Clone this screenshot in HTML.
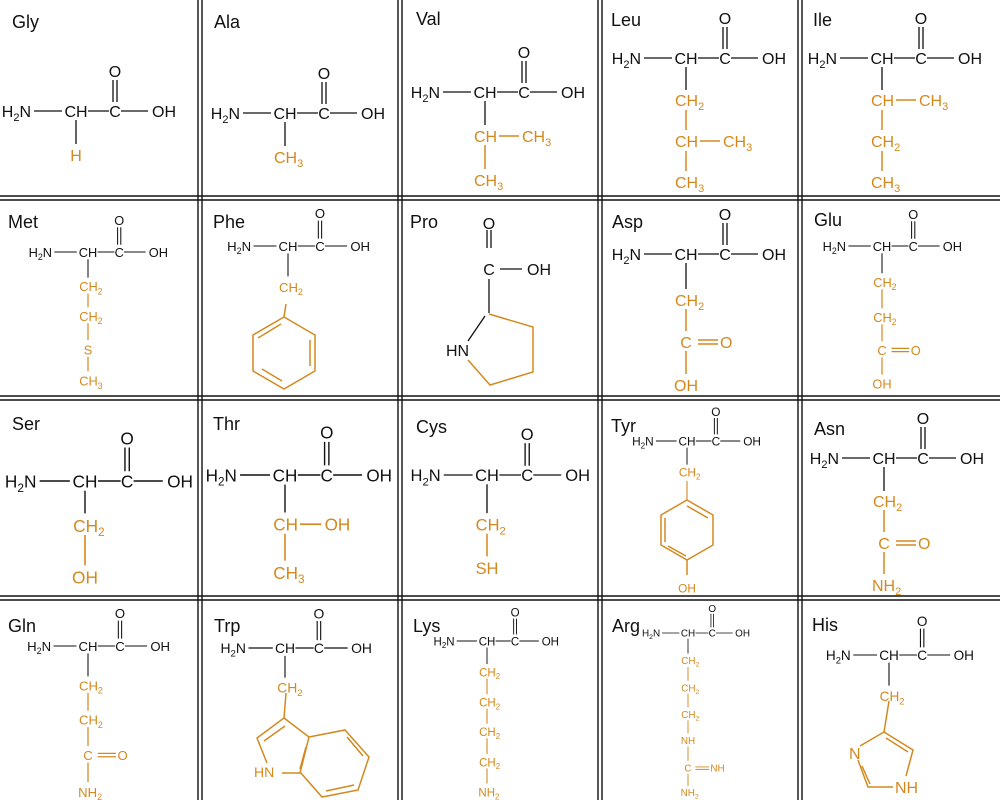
<!DOCTYPE html>
<html><head><meta charset="utf-8"><style>
html,body{margin:0;padding:0;background:#fff}
svg{display:block}
text{font-family:"Liberation Sans",Arial,sans-serif;font-size:16px;fill:#111}
.o text,text.o{fill:#d4891e}
.lab{font-size:18px}
.k{stroke:#111;stroke-width:1.3;fill:none}
.or{stroke:#d4891e;stroke-width:1.5;fill:none}
.m{text-anchor:middle}
</style></head><body>
<svg width="1000" height="800" viewBox="0 0 1000 800">
<rect width="1000" height="800" fill="#fff"/>
<g stroke="#111" stroke-width="1.4">
<path d="M198 0V800M202 0V800M398 0V800M402 0V800M598 0V800M602 0V800M798 0V800M802 0V800"/>
<path d="M0 196H1000M0 200H1000M0 396H1000M0 400H1000M0 596H1000M0 600H1000"/>
</g>
<g class="lab">
<text class="lab" x="12" y="28">Gly</text><text class="lab" x="214" y="28">Ala</text><text class="lab" x="416" y="25">Val</text><text class="lab" x="611" y="26">Leu</text><text class="lab" x="813" y="26">Ile</text>
<text class="lab" x="8" y="228">Met</text><text class="lab" x="213" y="228">Phe</text><text class="lab" x="410" y="228">Pro</text><text class="lab" x="612" y="228">Asp</text><text class="lab" x="814" y="226">Glu</text>
<text class="lab" x="12" y="430">Ser</text><text class="lab" x="213" y="430">Thr</text><text class="lab" x="416" y="433">Cys</text><text class="lab" x="611" y="432">Tyr</text><text class="lab" x="814" y="435">Asn</text>
<text class="lab" x="8" y="632">Gln</text><text class="lab" x="214" y="632">Trp</text><text class="lab" x="413" y="632">Lys</text><text class="lab" x="612" y="632">Arg</text><text class="lab" x="812" y="631">His</text>
</g>

<!-- Gly -->
<g transform="translate(76,111)">
<path class="k" d="M-42 0H-14M12 0H33M45 0H72M37-9V-31M41-9V-31M0 9V33"/>
<text x="-45" y="6" text-anchor="end">H<tspan font-size="11" dy="4">2</tspan><tspan dy="-4">N</tspan></text><text x="0" y="6" class="m">CH</text><text x="39" y="6" class="m">C</text><text x="39" y="-34" class="m">O</text><text x="76" y="6">OH</text>
<text class="o m" x="0" y="50">H</text>
</g>
<!-- Ala -->
<g transform="translate(285,113)">
<path class="k" d="M-42 0H-14M12 0H33M45 0H72M37-9V-31M41-9V-31M0 9V33"/>
<text x="-45" y="6" text-anchor="end">H<tspan font-size="11" dy="4">2</tspan><tspan dy="-4">N</tspan></text><text x="0" y="6" class="m">CH</text><text x="39" y="6" class="m">C</text><text x="39" y="-34" class="m">O</text><text x="76" y="6">OH</text>
<text class="o" x="-11" y="50">CH<tspan font-size="11" dy="4">3</tspan></text>
</g>
<!-- Val -->
<g transform="translate(485,92)">
<path class="k" d="M-42 0H-14M12 0H33M45 0H72M37-9V-31M41-9V-31M0 9V33"/>
<text x="-45" y="6" text-anchor="end">H<tspan font-size="11" dy="4">2</tspan><tspan dy="-4">N</tspan></text><text x="0" y="6" class="m">CH</text><text x="39" y="6" class="m">C</text><text x="39" y="-34" class="m">O</text><text x="76" y="6">OH</text>
<path class="or" d="M14 44H34M0 53V77"/>
<text class="o" x="-11" y="50">CH</text><text class="o" x="37" y="50">CH<tspan font-size="11" dy="4">3</tspan></text>
<text class="o" x="-11" y="94">CH<tspan font-size="11" dy="4">3</tspan></text>
</g>
<!-- Leu -->
<g transform="translate(686,58)">
<path class="k" d="M-42 0H-14M12 0H33M45 0H72M37-9V-31M41-9V-31M0 9V32"/>
<text x="-45" y="6" text-anchor="end">H<tspan font-size="11" dy="4">2</tspan><tspan dy="-4">N</tspan></text><text x="0" y="6" class="m">CH</text><text x="39" y="6" class="m">C</text><text x="39" y="-34" class="m">O</text><text x="76" y="6">OH</text>
<path class="or" d="M0 52V72M0 93V113M14 83H34"/>
<text class="o" x="-11" y="48">CH<tspan font-size="11" dy="4">2</tspan></text>
<text class="o" x="-11" y="89">CH</text><text class="o" x="37" y="89">CH<tspan font-size="11" dy="4">3</tspan></text>
<text class="o" x="-11" y="130">CH<tspan font-size="11" dy="4">3</tspan></text>
</g>
<!-- Ile -->
<g transform="translate(882,58)">
<path class="k" d="M-42 0H-14M12 0H33M45 0H72M37-9V-31M41-9V-31M0 9V32"/>
<text x="-45" y="6" text-anchor="end">H<tspan font-size="11" dy="4">2</tspan><tspan dy="-4">N</tspan></text><text x="0" y="6" class="m">CH</text><text x="39" y="6" class="m">C</text><text x="39" y="-34" class="m">O</text><text x="76" y="6">OH</text>
<path class="or" d="M0 52V72M0 93V113M14 42H34"/>
<text class="o" x="-11" y="48">CH</text><text class="o" x="37" y="48">CH<tspan font-size="11" dy="4">3</tspan></text>
<text class="o" x="-11" y="89">CH<tspan font-size="11" dy="4">2</tspan></text>
<text class="o" x="-11" y="130">CH<tspan font-size="11" dy="4">3</tspan></text>
</g>

<!-- Met -->
<g transform="translate(88,252) scale(0.8)">
<path class="k" d="M-42 0H-14M12 0H33M45 0H72M37-9V-31M41-9V-31M0 9V32"/>
<text x="-45" y="6" text-anchor="end">H<tspan font-size="11" dy="4">2</tspan><tspan dy="-4">N</tspan></text><text x="0" y="6" class="m">CH</text><text x="39" y="6" class="m">C</text><text x="39" y="-34" class="m">O</text><text x="76" y="6">OH</text>
<path class="or" d="M0 52V69M0 89V110M0 131V149"/>
<text class="o" x="-11" y="49">CH<tspan font-size="11" dy="4">2</tspan></text>
<text class="o" x="-11" y="86">CH<tspan font-size="11" dy="4">2</tspan></text>
<text class="o m" x="0" y="128">S</text>
<text class="o" x="-11" y="167">CH<tspan font-size="11" dy="4">3</tspan></text>
</g>
<!-- Phe -->
<g transform="translate(288,246) scale(0.82)">
<path class="k" d="M-42 0H-14M12 0H33M45 0H72M37-9V-31M41-9V-31M0 9V37"/>
<text x="-45" y="6" text-anchor="end">H<tspan font-size="11" dy="4">2</tspan><tspan dy="-4">N</tspan></text><text x="0" y="6" class="m">CH</text><text x="39" y="6" class="m">C</text><text x="39" y="-34" class="m">O</text><text x="76" y="6">OH</text>
<text class="o" x="-11" y="56">CH<tspan font-size="11" dy="4">2</tspan></text>
</g>
<g class="or" stroke-width="1.8">
<path d="M286 304L284 317"/>
<polygon points="284,317 315,335 315,371 284,389 253,371 253,335"/>
<path d="M258 338L281 324M310 340V366M262 369L282 381"/>
</g>
<!-- Pro -->
<g>
<path class="k" d="M487 248V230M491 248V230M500 269H522M489 279V313M485 316L468 341"/>
<text x="489" y="275" class="m">C</text><text x="489" y="229" class="m">O</text><text x="527" y="275">OH</text>
<text x="446" y="356">HN</text>
<path class="or" stroke-width="1.8" d="M489 314L533 327V372L490 385L468 360"/>
</g>
<!-- Asp -->
<g transform="translate(686,254)">
<path class="k" d="M-42 0H-14M12 0H33M45 0H72M37-9V-31M41-9V-31M0 9V35"/>
<text x="-45" y="6" text-anchor="end">H<tspan font-size="11" dy="4">2</tspan><tspan dy="-4">N</tspan></text><text x="0" y="6" class="m">CH</text><text x="39" y="6" class="m">C</text><text x="39" y="-34" class="m">O</text><text x="76" y="6">OH</text>
<path class="or" d="M0 55V77M0 97V120M12 86H32M12 90H32"/>
<text class="o" x="-11" y="52">CH<tspan font-size="11" dy="4">2</tspan></text>
<text class="o m" x="0" y="94">C</text><text class="o" x="34" y="94">O</text>
<text class="o m" x="0" y="137">OH</text>
</g>
<!-- Glu -->
<g transform="translate(882,246) scale(0.8)">
<path class="k" d="M-42 0H-14M12 0H33M45 0H72M37-9V-31M41-9V-31M0 9V34"/>
<text x="-45" y="6" text-anchor="end">H<tspan font-size="11" dy="4">2</tspan><tspan dy="-4">N</tspan></text><text x="0" y="6" class="m">CH</text><text x="39" y="6" class="m">C</text><text x="39" y="-34" class="m">O</text><text x="76" y="6">OH</text>
<path class="or" d="M0 54V78M0 98V119M0 139V161M12 128H34M12 132H34"/>
<text class="o" x="-11" y="51">CH<tspan font-size="11" dy="4">2</tspan></text>
<text class="o" x="-11" y="95">CH<tspan font-size="11" dy="4">2</tspan></text>
<text class="o m" x="0" y="136">C</text><text class="o" x="36" y="136">O</text>
<text class="o m" x="0" y="178">OH</text>
</g>

<!-- Ser -->
<g transform="translate(85,481) scale(1.08)">
<path class="k" d="M-42 0H-14M12 0H33M45 0H72M37-9V-31M41-9V-31M0 9V30"/>
<text x="-45" y="6" text-anchor="end">H<tspan font-size="11" dy="4">2</tspan><tspan dy="-4">N</tspan></text><text x="0" y="6" class="m">CH</text><text x="39" y="6" class="m">C</text><text x="39" y="-34" class="m">O</text><text x="76" y="6">OH</text>
<path class="or" d="M0 50V78"/>
<text class="o" x="-11" y="47">CH<tspan font-size="11" dy="4">2</tspan></text>
<text class="o m" x="0" y="95">OH</text>
</g>
<!-- Thr -->
<g transform="translate(285,475) scale(1.07)">
<path class="k" d="M-42 0H-14M12 0H33M45 0H72M37-9V-31M41-9V-31M0 9V35"/>
<text x="-45" y="6" text-anchor="end">H<tspan font-size="11" dy="4">2</tspan><tspan dy="-4">N</tspan></text><text x="0" y="6" class="m">CH</text><text x="39" y="6" class="m">C</text><text x="39" y="-34" class="m">O</text><text x="76" y="6">OH</text>
<path class="or" d="M0 55V80M14 46H34"/>
<text class="o" x="-11" y="52">CH</text><text class="o" x="37" y="52">OH</text>
<text class="o" x="-11" y="97">CH<tspan font-size="11" dy="4">3</tspan></text>
</g>
<!-- Cys -->
<g transform="translate(487,475) scale(1.03)">
<path class="k" d="M-42 0H-14M12 0H33M45 0H72M37-9V-31M41-9V-31M0 9V37"/>
<text x="-45" y="6" text-anchor="end">H<tspan font-size="11" dy="4">2</tspan><tspan dy="-4">N</tspan></text><text x="0" y="6" class="m">CH</text><text x="39" y="6" class="m">C</text><text x="39" y="-34" class="m">O</text><text x="76" y="6">OH</text>
<path class="or" d="M0 57V79"/>
<text class="o" x="-11" y="54">CH<tspan font-size="11" dy="4">2</tspan></text>
<text class="o m" x="0" y="96">SH</text>
</g>
<!-- Tyr -->
<g transform="translate(687,441) scale(0.74)">
<path class="k" d="M-42 0H-14M12 0H33M45 0H72M37-9V-31M41-9V-31M0 9V32"/>
<text x="-45" y="6" text-anchor="end">H<tspan font-size="11" dy="4">2</tspan><tspan dy="-4">N</tspan></text><text x="0" y="6" class="m">CH</text><text x="39" y="6" class="m">C</text><text x="39" y="-34" class="m">O</text><text x="76" y="6">OH</text>
<text class="o" x="-11" y="48">CH<tspan font-size="11" dy="4">2</tspan></text>
<path class="or" d="M0 54V80"/>
<text class="o m" x="0" y="205">OH</text>
</g>
<g class="or" stroke-width="1.6">
<polygon points="687,500 713,515 713,545 687,560 661,545 661,515"/>
<path d="M687 560V575M665 518V542M687 506L708 518M668 546L686 556"/>
</g>
<!-- Asn -->
<g transform="translate(884,458)">
<path class="k" d="M-42 0H-14M12 0H33M45 0H72M37-9V-31M41-9V-31M0 9V33"/>
<text x="-45" y="6" text-anchor="end">H<tspan font-size="11" dy="4">2</tspan><tspan dy="-4">N</tspan></text><text x="0" y="6" class="m">CH</text><text x="39" y="6" class="m">C</text><text x="39" y="-34" class="m">O</text><text x="76" y="6">OH</text>
<path class="or" d="M0 52V74M0 94V116M12 83H32M12 87H32"/>
<text class="o" x="-11" y="49">CH<tspan font-size="11" dy="4">2</tspan></text>
<text class="o m" x="0" y="91">C</text><text class="o" x="34" y="91">O</text>
<text class="o" x="-12" y="133">NH<tspan font-size="11" dy="4">2</tspan></text>
</g>

<!-- Gln -->
<g transform="translate(88,646) scale(0.82)">
<path class="k" d="M-42 0H-14M12 0H33M45 0H72M37-9V-31M41-9V-31M0 9V37"/>
<text x="-45" y="6" text-anchor="end">H<tspan font-size="11" dy="4">2</tspan><tspan dy="-4">N</tspan></text><text x="0" y="6" class="m">CH</text><text x="39" y="6" class="m">C</text><text x="39" y="-34" class="m">O</text><text x="76" y="6">OH</text>
<path class="or" d="M0 57V79M0 99V122M0 142V166M12 131H34M12 135H34"/>
<text class="o" x="-11" y="54">CH<tspan font-size="11" dy="4">2</tspan></text>
<text class="o" x="-11" y="96">CH<tspan font-size="11" dy="4">2</tspan></text>
<text class="o m" x="0" y="139">C</text><text class="o" x="36" y="139">O</text>
<text class="o" x="-12" y="184">NH<tspan font-size="11" dy="4">2</tspan></text>
</g>
<!-- Trp -->
<g transform="translate(285,648) scale(0.87)">
<path class="k" d="M-42 0H-14M12 0H33M45 0H72M37-9V-31M41-9V-31M0 9V34"/>
<text x="-45" y="6" text-anchor="end">H<tspan font-size="11" dy="4">2</tspan><tspan dy="-4">N</tspan></text><text x="0" y="6" class="m">CH</text><text x="39" y="6" class="m">C</text><text x="39" y="-34" class="m">O</text><text x="76" y="6">OH</text>
<text class="o" x="-9" y="51">CH<tspan font-size="11" dy="4">2</tspan></text>
</g>
<g class="or" stroke-width="1.6">
<path d="M286 693L284 718L257 738L267 763M282 773H300L309 737L284 718M309 737L345 730L369 757L358 790L322 797L300 772M285 726L264 741M306 747L300 769M347 737L363 756M326 791L354 785"/>
</g>
<text class="o" x="254" y="777" style="font-size:14px">HN</text>
<!-- Lys -->
<g transform="translate(487,641) scale(0.72)">
<path class="k" d="M-42 0H-14M12 0H33M45 0H72M37-9V-31M41-9V-31M0 9V32"/>
<text x="-45" y="6" text-anchor="end">H<tspan font-size="11" dy="4">2</tspan><tspan dy="-4">N</tspan></text><text x="0" y="6" class="m">CH</text><text x="39" y="6" class="m">C</text><text x="39" y="-34" class="m">O</text><text x="76" y="6">OH</text>
<path class="or" d="M0 52V74M0 94V115M0 135V157M0 177V198"/>
<text class="o" x="-11" y="49">CH<tspan font-size="11" dy="4">2</tspan></text>
<text class="o" x="-11" y="91">CH<tspan font-size="11" dy="4">2</tspan></text>
<text class="o" x="-11" y="132">CH<tspan font-size="11" dy="4">2</tspan></text>
<text class="o" x="-11" y="174">CH<tspan font-size="11" dy="4">2</tspan></text>
<text class="o" x="-12" y="216">NH<tspan font-size="11" dy="4">2</tspan></text>
</g>
<!-- Arg -->
<g transform="translate(688,633) scale(0.62)">
<path class="k" d="M-42 0H-14M12 0H33M45 0H72M37-9V-31M41-9V-31M0 9V33"/>
<text x="-45" y="6" text-anchor="end">H<tspan font-size="11" dy="4">2</tspan><tspan dy="-4">N</tspan></text><text x="0" y="6" class="m">CH</text><text x="39" y="6" class="m">C</text><text x="39" y="-34" class="m">O</text><text x="76" y="6">OH</text>
<path class="or" d="M0 55V77M0 98V120M0 141V162M0 183V206M0 227V247M12 216H34M12 220H34"/>
<text class="o" x="-11" y="50">CH<tspan font-size="11" dy="4">2</tspan></text>
<text class="o" x="-11" y="94">CH<tspan font-size="11" dy="4">2</tspan></text>
<text class="o" x="-11" y="137">CH<tspan font-size="11" dy="4">2</tspan></text>
<text class="o m" x="0" y="179">NH</text>
<text class="o m" x="0" y="223">C</text><text class="o" x="36" y="223">NH</text>
<text class="o" x="-12" y="263">NH<tspan font-size="11" dy="4">2</tspan></text>
</g>
<!-- His -->
<g transform="translate(889,655) scale(0.85)">
<path class="k" d="M-42 0H-14M12 0H33M45 0H72M37-9V-31M41-9V-31M0 9V36"/>
<text x="-45" y="6" text-anchor="end">H<tspan font-size="11" dy="4">2</tspan><tspan dy="-4">N</tspan></text><text x="0" y="6" class="m">CH</text><text x="39" y="6" class="m">C</text><text x="39" y="-34" class="m">O</text><text x="76" y="6">OH</text>
<text class="o" x="-11" y="54">CH<tspan font-size="11" dy="4">2</tspan></text>
</g>
<g class="or" stroke-width="1.6">
<path d="M889 701L884 732L913 750L906 776M884 732L860 746M858 760L868 787H893M886 738L908 752M862 766L870 784"/>
</g>
<text class="o" x="849" y="759">N</text>
<text class="o" x="895" y="793">NH</text>
</svg>
</body></html>
